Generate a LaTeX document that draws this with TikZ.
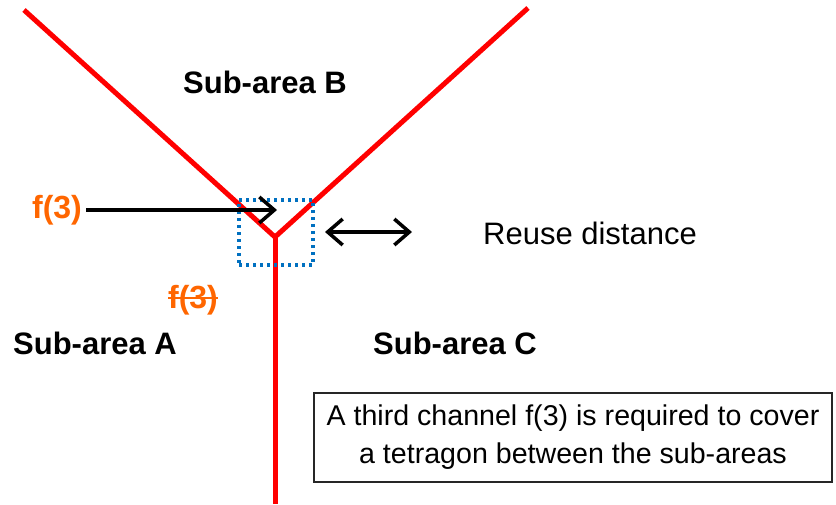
\documentclass[tikz,border=0pt]{standalone}
\usepackage{fontspec}
\setmainfont{Liberation Sans}
\usepackage{tikz}
\usetikzlibrary{arrows.meta, positioning}
\usepackage{xcolor}
\definecolor{borderred}{RGB}{255,0,0}
\definecolor{chanorange}{RGB}{255,102,0}
\definecolor{cellblue}{RGB}{0,112,192}
\newsavebox{\strikebox}
\newcommand{\struck}[1]{\sbox{\strikebox}{#1}\rlap{\usebox{\strikebox}}%
  \raisebox{0.3em}{\rule{\wd\strikebox}{2pt}}}

\begin{document}
\begin{tikzpicture}[x=1pt, y=-1pt,
    border/.style={line width=5pt, borderred, line join=miter},
    area/.style={font=\fontsize{31}{37}\selectfont\bfseries, inner sep=0pt},
    chan/.style={font=\fontsize{32}{38}\selectfont\bfseries, text=chanorange, inner sep=0pt},
    plain/.style={font=\fontsize{31}{37}\selectfont, inner sep=0pt},
    note/.style={rectangle, draw=black!85, line width=1.5pt, minimum width=518pt,
                 minimum height=89pt, align=center, inner sep=0pt,
                 font=\fontsize{28.6}{38}\selectfont},
    arr/.style={-{Straight Barb[length=15pt, width=26pt]}, line width=3.5pt},
    darr/.style={{Straight Barb[length=15pt, width=26pt]}-{Straight Barb[length=15pt, width=26pt]}, line width=3.5pt},
]
  \useasboundingbox (0,0) rectangle (836,504);

  % Borders between sub-areas
  \coordinate (tl)   at (24,10);
  \coordinate (tr)   at (528,8);
  \coordinate (junc) at (275,237);
  \coordinate (bot)  at (275,504);
  \draw[border] (tl) -- (junc) -- (tr);
  \draw[border] (junc) -- (bot);

  % Tetragon between the sub-areas
  \node[draw=cellblue, line width=3.5pt, dash pattern=on 3pt off 4pt,
        minimum width=74pt, minimum height=65pt, inner sep=0pt] (cell) at (276,232.5) {};

  % Labels
  \node[area] (areaB) at (265,82)  {Sub-area B};
  \node[area] (areaA) at (95,343)  {Sub-area A};
  \node[area] (areaC) at (455,343) {Sub-area C};
  \node[chan] (f3)    at (57,210)  {f(3)};
  \node[chan] (f3x)   at (193,300) {\struck{f(3)}};
  \node[plain] (reuse) at (590,233) {Reuse distance};

  % Arrows
  \coordinate (f3tip) at (277,210);
  \draw[arr] ([xshift=4pt]f3.east) -- (f3tip);
  \coordinate (dl) at (325,232);
  \coordinate (dr) at (412,232);
  \draw[darr] (dl) -- (dr);

  % Note box
  \node[note] (box) at (573,437.5)
    {A third channel f(3) is required to cover\\a tetragon between the sub-areas};

\end{tikzpicture}
\end{document}
